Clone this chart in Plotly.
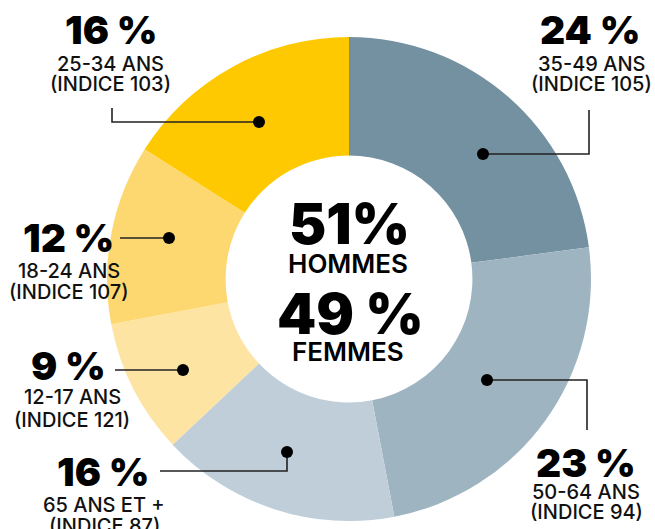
import plotly.graph_objects as go

W, H = 655, 529

# Data (clockwise from 12 o'clock)
age_groups = ["35-49 ANS", "50-64 ANS", "65 ANS ET +", "12-17 ANS", "18-24 ANS", "25-34 ANS"]
shares = [24, 23, 16, 9, 12, 16]          # printed percentages
# arc sizes as actually drawn in the picture (first two arcs)
arc_sizes = [22.9, 24.1, 16, 9, 12, 16]
indices = [105, 94, 87, 121, 107, 103]
colors = ["#7391a0", "#9fb4c1", "#bfced8", "#fee4a3", "#fdd870", "#fec900"]
pct_labels = ["24 %", "23 %", "16 %", "9 %", "12 %", "16 %"]
men_pct = 51
women_pct = 49

def px(x):
    return x / W

def py(y):
    return 1 - y / H

fig = go.Figure()
fig.add_trace(go.Pie(
    values=arc_sizes,
    labels=age_groups,
    customdata=shares,
    marker=dict(colors=colors, line=dict(width=0)),
    hole=0.51,
    sort=False,
    direction="clockwise",
    rotation=0,
    textinfo="none",
    hovertemplate="%{label}: %{customdata} %<extra></extra>",
    domain=dict(x=[px(107), px(591)], y=[py(521), py(37)]),
    showlegend=False,
))

FAM = "Inter, Roboto, sans-serif"
NUM_FONT = dict(family=FAM, size=39, color="#000000", weight=900)
LAB_FONT = dict(family=FAM, size=20, color="#111111", weight=500)

# label layout: (pct center x, pct center y, label line1 y, line2 y, label center x)
label_pos = [
    (590, 30, 64, 84, 591),
    (586, 462, 492, 512, 586),
    (103, 471, 505, 526, 104),
    (68, 365, 397, 420, 72),
    (68, 237, 271, 292, 69),
    (111, 30, 64, 84, 111),
]

annotations = []
for i in range(len(shares)):
    cx, cy, l1, l2, lx = label_pos[i]
    annotations.append(dict(x=px(cx), y=py(cy), xref="paper", yref="paper",
                            text=pct_labels[i], showarrow=False, font=NUM_FONT,
                            xanchor="center", yanchor="middle"))
    annotations.append(dict(x=px(lx), y=py(l1), xref="paper", yref="paper",
                            text=age_groups[i], showarrow=False, font=LAB_FONT,
                            xanchor="center", yanchor="middle"))
    annotations.append(dict(x=px(lx), y=py(l2), xref="paper", yref="paper",
                            text=f"(INDICE {indices[i]})", showarrow=False, font=LAB_FONT,
                            xanchor="center", yanchor="middle"))

# center texts
annotations += [
    dict(x=px(349), y=py(224), xref="paper", yref="paper", text=f"{men_pct}%",
         showarrow=False, font=dict(family=FAM, size=56, color="#000", weight=900)),
    dict(x=px(348), y=py(263), xref="paper", yref="paper", text="HOMMES",
         showarrow=False, font=dict(family=FAM, size=26, color="#000", weight=600)),
    dict(x=px(350), y=py(314), xref="paper", yref="paper", text=f"{women_pct} %",
         showarrow=False, font=dict(family=FAM, size=56, color="#000", weight=900)),
    dict(x=px(348), y=py(351), xref="paper", yref="paper", text="FEMMES",
         showarrow=False, font=dict(family=FAM, size=26, color="#000", weight=600)),
]

# leader lines (pixel polylines) and dots
leaders = [
    ([(589, 110), (589, 154), (483, 154)], (483, 154)),
    ([(587, 430), (587, 380), (487, 380)], (487, 380)),
    ([(160, 471), (287, 471), (287, 452)], (287, 452)),
    ([(115, 370), (183, 370)], (183, 370)),
    ([(120, 238), (169, 238)], (169, 238)),
    ([(112, 108), (112, 122), (259, 122)], (259, 122)),
]

shapes = []
for pts, dot in leaders:
    path = "M " + " L ".join(f"{px(x)},{py(y)}" for x, y in pts)
    shapes.append(dict(type="path", xref="paper", yref="paper", path=path,
                       line=dict(color="#222222", width=1.6)))
    r = 6
    shapes.append(dict(type="circle", xref="paper", yref="paper",
                       x0=px(dot[0] - r), x1=px(dot[0] + r),
                       y0=py(dot[1] + r), y1=py(dot[1] - r),
                       fillcolor="#000000", line=dict(width=0)))

fig.update_layout(
    width=W, height=H,
    margin=dict(l=0, r=0, t=0, b=0),
    paper_bgcolor="#ffffff",
    plot_bgcolor="#ffffff",
    annotations=annotations,
    shapes=shapes,
)

fig.write_html("out.html", config={"displayModeBar": False},
               post_script="document.body.style.margin='0';document.body.style.overflow='hidden';")
